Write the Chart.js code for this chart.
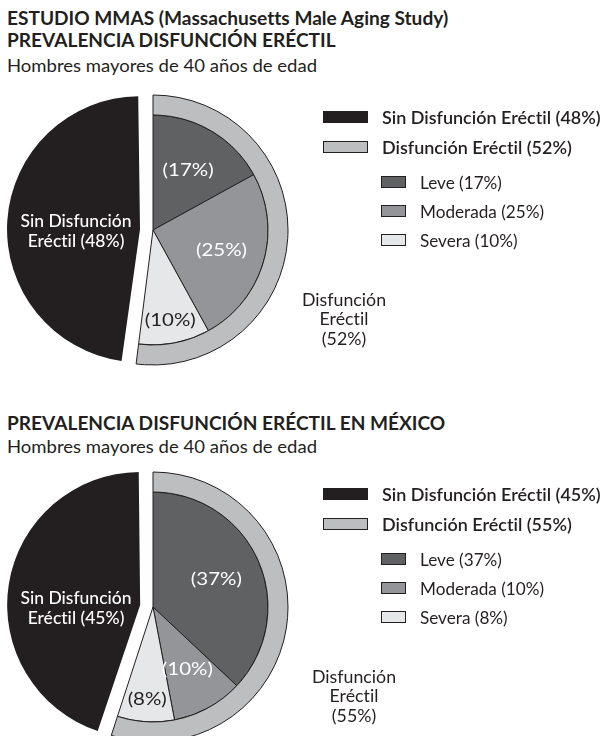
<!DOCTYPE html>
<html lang="es">
<head>
<meta charset="utf-8">
<script src="https://cdn.jsdelivr.net/npm/chart.js@4.4.0/dist/chart.umd.min.js"></script>
<style>
  body {
    margin: 0;
    width: 607px;
    height: 736px;
    overflow: hidden;
    position: relative;
    background: #fff;
    color: #231f20;
    font-family: Lato, "Open Sans", sans-serif;
    font-variant-ligatures: none;
  }
  .t { position: absolute; left: 7px; white-space: nowrap; font-size: 18px; line-height: 1; transform-origin: 0 50%; }
  .b { font-weight: bold; }
  canvas { position: absolute; left: 3px; }
  .item { position: absolute; height: 20px; line-height: 20px; white-space: nowrap; font-size: 18px; transform-origin: 0 50%; }
  .box { position: absolute; box-sizing: border-box; height: 12px; border: 1px solid #231f20; }
  .main { font-weight: 600; }
</style>
</head>
<body>
<div class="t b title" style="top:9px">ESTUDIO MMAS (Massachusetts Male Aging Study)</div>
<div class="t b title" style="top:31px">PREVALENCIA DISFUNCIÓN ERÉCTIL</div>
<div class="t sub" style="top:56px">Hombres mayores de 40 años de edad</div>
<canvas id="mmas" width="604" height="300" style="top:80px"></canvas>

<div class="t b title" style="top:414px">PREVALENCIA DISFUNCIÓN ERÉCTIL EN MÉXICO</div>
<div class="t sub" style="top:437px">Hombres mayores de 40 años de edad</div>
<canvas id="mexico" width="604" height="300" style="top:457px"></canvas>

<div id="legends"></div>

<script>
// categorias y valores (%)
const mainLabels = ["Sin Disfunción Eréctil", "Disfunción Eréctil"];
const subLabels = ["Leve", "Moderada", "Severa"];

const mmasMain = [48, 52];
const mmasSub = [17, 25, 10];

const mexicoMain = [45, 55];
const mexicoSub = [37, 10, 8];

const black = "#231f20";
const ringGray = "#bcbec0";
const subColors = ["#606163", "#939598", "#e6e7e8"];
const subTextColors = ["#fff", "#fff", black];
const labelRadius = [0.6, 0.62, 0.8];

const fontStack = 'Lato, "Open Sans", sans-serif';

// the original uses a narrow font, so every text style is squeezed to its measured width
const measureCtx = document.createElement("canvas").getContext("2d");
function squeeze(font, sample, target) {
  measureCtx.font = font + " " + fontStack;
  return target / measureCtx.measureText(sample).width;
}
const sx = {
  title: squeeze("bold 18px", "ESTUDIO MMAS (Massachusetts Male Aging Study)", 441),
  sub: squeeze("18px", "Hombres mayores de 40 años de edad", 310),
  legMain: squeeze("600 18px", "Sin Disfunción Eréctil (48%)", 219),
  legSub: squeeze("18px", "Moderada (25%)", 124),
  inBlack: squeeze("500 18px", "Sin Disfunción", 111),
  inSlice: squeeze("18px", "(17%)", 51),
  outside: squeeze("18px", "Disfunción", 84),
};
document.querySelectorAll(".title").forEach((el) => (el.style.transform = "scaleX(" + sx.title + ")"));
document.querySelectorAll(".sub").forEach((el) => (el.style.transform = "scaleX(" + sx.sub + ")"));

function squeezedText(ctx, s, x, y, k) {
  ctx.save();
  ctx.translate(x, y);
  ctx.scale(k, 1);
  ctx.fillText(s, 0, 0);
  ctx.restore();
}

// the black slice is pulled out with offset; keep its radius equal to the ring
const blackSlice = {
  id: "blackSlice",
  afterDatasetsUpdate(chart) {
    const outerR = chart.getDatasetMeta(0).controller.outerRadius;
    const arcs = chart.getDatasetMeta(1).data;
    const arc = arcs[arcs.length - 1];
    const off = (arc.options.offset || 0) / 4;
    const fix = 1 - Math.sin(Math.min(Math.PI, arc.circumference));
    arc.outerRadius = outerR - 2 - off * fix;
  },
};

const sliceLabels = {
  id: "sliceLabels",
  afterDatasetsDraw(chart, args, opts) {
    const ctx = chart.ctx;
    const arcs = chart.getDatasetMeta(1).data;
    const cx = arcs[0].x;
    const cy = arcs[0].y;
    ctx.save();
    ctx.textAlign = "center";
    ctx.textBaseline = "middle";
    ctx.textRendering = "optimizeSpeed"; // no "ti" ligature
    ctx.letterSpacing = "0.01px";

    ctx.font = "18px " + fontStack;
    opts.sub.forEach((v, i) => {
      const arc = arcs[i];
      const mid = (arc.startAngle + arc.endAngle) / 2;
      const r = labelRadius[i] * arc.outerRadius;
      ctx.fillStyle = subTextColors[i];
      squeezedText(ctx, "(" + v + "%)", cx + Math.cos(mid) * r, cy + Math.sin(mid) * r, sx.inSlice);
    });

    ctx.font = "500 18px " + fontStack;
    ctx.fillStyle = "#fff";
    const inLines = ["Sin Disfunción", "Eréctil (" + opts.main[0] + "%)"];
    inLines.forEach((s, i) => squeezedText(ctx, s, cx - 77, cy - 9 + i * 20, sx.inBlack));

    ctx.font = "18px " + fontStack;
    ctx.fillStyle = black;
    const outLines = ["Disfunción", "Eréctil", "(" + opts.main[1] + "%)"];
    outLines.forEach((s, i) => squeezedText(ctx, s, cx + opts.outX, cy + 70 + i * 19.5, sx.outside));
    ctx.restore();
  },
};

function makePie(id, main, sub, outX) {
  new Chart(document.getElementById(id), {
    type: "pie",
    data: {
      labels: subLabels.concat(mainLabels),
      datasets: [
        {
          // anillo exterior: disfuncion total
          data: [main[1], main[0]],
          backgroundColor: [ringGray, "rgba(0,0,0,0)"],
          borderColor: [black, "rgba(0,0,0,0)"],
          borderWidth: [1, 0],
          weight: 20,
        },
        {
          data: sub.concat([main[0]]),
          backgroundColor: subColors.concat([black]),
          borderColor: [black, black, black, black],
          borderWidth: [1, 1, 1, 0],
          offset: [0, 0, 0, 52],
          weight: 115,
        },
      ],
    },
    options: {
      responsive: false,
      animation: false,
      events: [],
      radius: 135,
      layout: { padding: { right: 304 } },
      plugins: {
        legend: { display: false },
        tooltip: { enabled: false },
        sliceLabels: { main: main, sub: sub, outX: outX },
      },
    },
    plugins: [blackSlice, sliceLabels],
  });
}

makePie("mmas", mmasMain, mmasSub, 191);
makePie("mexico", mexicoMain, mexicoSub, 201);

// leyendas
function legend(cy, main, sub) {
  const wrap = document.getElementById("legends");
  const rows = [
    { dy: -113, text: mainLabels[0] + " (" + main[0] + "%)", color: black, big: true },
    { dy: -83, text: mainLabels[1] + " (" + main[1] + "%)", color: ringGray, big: true },
  ];
  sub.forEach((v, i) => {
    rows.push({ dy: [-48, -19, 10][i], text: subLabels[i] + " (" + v + "%)", color: subColors[i], big: false });
  });
  rows.forEach((r) => {
    const y = cy + r.dy;
    const box = document.createElement("div");
    box.className = "box";
    box.style.top = y - 6 + "px";
    box.style.left = (r.big ? 322.5 : 381) + "px";
    box.style.width = (r.big ? 45 : 25) + "px";
    box.style.background = r.color;
    const item = document.createElement("div");
    item.className = "item" + (r.big ? " main" : "");
    item.style.top = y - 10 + "px";
    item.style.left = (r.big ? 381.5 : 419.5) + "px";
    item.style.transform = "scaleX(" + (r.big ? sx.legMain : sx.legSub) + ")";
    item.textContent = r.text;
    wrap.appendChild(box);
    wrap.appendChild(item);
  });
}

legend(230, mmasMain, mmasSub);
legend(607, mexicoMain, mexicoSub);
</script>
</body>
</html>
